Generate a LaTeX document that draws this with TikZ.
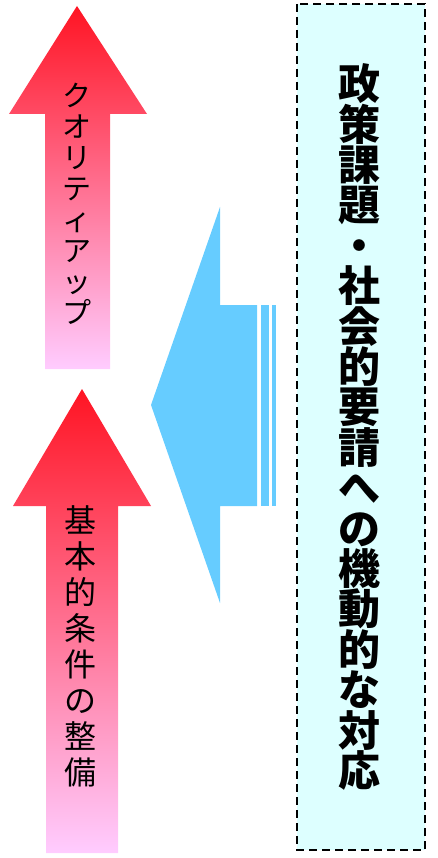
\documentclass[tikz,border=0pt]{standalone}
\usepackage{fontspec}
\newfontfamily\jp{Noto Sans CJK JP}
\newcommand\tightlines{\lineskiplimit=-100pt\relax}
\definecolor{arrowtop}{RGB}{255,20,35}
\definecolor{arrowbot}{RGB}{255,204,255}
\definecolor{skyblue}{RGB}{102,204,255}
\definecolor{boxfill}{RGB}{221,255,255}
\begin{document}
\begin{tikzpicture}[x=1pt,y=-1pt,
  uparrow/.style={top color=arrowtop,bottom color=arrowbot,draw=none},
  bluearrow/.style={fill=skyblue,draw=none},
  vtext/.style={align=center,inner sep=0pt,text=black},
  dashbox/.style={draw=black,line width=2pt,dash pattern=on 8pt off 5pt,fill=boxfill}]
\useasboundingbox (0,0) rectangle (437,858);
% top arrow
\path[uparrow] (77,6) -- (147,114) -- (110,114) -- (110,369) -- (45,369) -- (45,114) -- (9,114) -- cycle;
\node[vtext,font=\jp\fontsize{29}{31}\selectfont\tightlines] (quality) at (77,204) {ク\\オ\\リ\\テ\\ィ\\ア\\ッ\\プ};
% bottom arrow
\path[uparrow] (82,389) -- (151,506) -- (118,506) -- (118,853) -- (46,853) -- (46,506) -- (13,506) -- cycle;
\node[vtext,font=\jp\fontsize{32}{36}\selectfont\tightlines] (basic) at (80,646) {基\\本\\的\\条\\件\\の\\整\\備};
% blue arrow
\path[bluearrow] (151,405) -- (220,207) -- (220,305) -- (257,305) -- (257,506) -- (220,506) -- (220,603) -- cycle;
\path[bluearrow] (261,305) rectangle (269,506);
\path[bluearrow] (272,305) rectangle (276,506);
% dashed box
\path[dashbox] (297,4) rectangle (425,850);
\node[vtext,font=\jp\bfseries\fontsize{42}{40.4}\selectfont\tightlines] (policy) at (359,427) {政\\策\\課\\題\\・\\社\\会\\的\\要\\請\\へ\\の\\機\\動\\的\\な\\対\\応};
\end{tikzpicture}
\end{document}
